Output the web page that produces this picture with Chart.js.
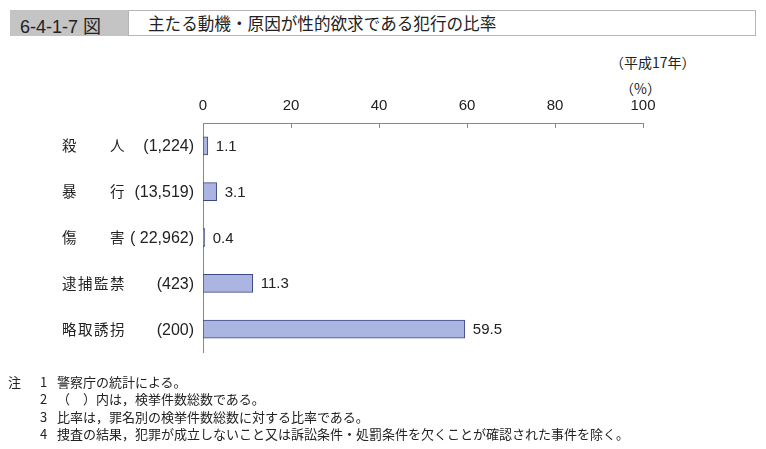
<!DOCTYPE html>
<html>
<head>
<meta charset="utf-8">
<script src="https://cdn.jsdelivr.net/npm/chart.js@4"></script>
<style>
  body { margin: 0; background: #fff; }
  #wrap { position: relative; width: 766px; height: 449px; overflow: hidden; }
  canvas { position: absolute; left: 0; top: 0; }
  .abs { position: absolute; white-space: nowrap; color: #222; }
  #numbox { left: 10px; top: 10px; width: 118px; height: 26px; background: #c4c4c4; }
  #titlebox { left: 128px; top: 10px; width: 626px; height: 24px; border: 1px solid #b5b5b5; background: #fff; }
  #num { left: 20px; top: 12px; font: 18px 'Liberation Sans', 'Noto Sans CJK JP', sans-serif; }
  #title { left: 148px; top: 11px; font: 16.6px 'Noto Sans CJK JP', sans-serif; }
  #year { left: 610px; top: 52px; font: 14px 'Noto Sans CJK JP', sans-serif; }
  #unit { left: 620px; top: 78px; font: 14px 'Noto Sans CJK JP', sans-serif; }
  #notes { left: 8px; top: 373px; font: 13px 'Noto Sans CJK JP', sans-serif; line-height: 17.3px; }
  #notes span { display: inline-block; }
</style>
</head>
<body>
<div id="wrap">
  <div class="abs" id="numbox"></div>
  <div class="abs" id="titlebox"></div>
  <div class="abs" id="num">6-4-1-7 図</div>
  <div class="abs" id="title">主たる動機・原因が性的欲求である犯行の比率</div>
  <div class="abs" id="year">（平成17年）</div>
  <div class="abs" id="unit">（%）</div>
  <canvas id="myChart" width="766" height="449"></canvas>
  <div class="abs" id="notes">
    <div><span style="width:32px">注</span><span style="width:17px">1</span>警察庁の統計による。</div>
    <div><span style="width:32px"></span><span style="width:17px">2</span>（　）内は，検挙件数総数である。</div>
    <div><span style="width:32px"></span><span style="width:17px">3</span>比率は，罪名別の検挙件数総数に対する比率である。</div>
    <div><span style="width:32px"></span><span style="width:17px">4</span>捜査の結果，犯罪が成立しないこと又は訴訟条件・処罰条件を欠くことが確認された事件を除く。</div>
  </div>
</div>
<script>
// data
const categories = ['殺　　人', '暴　　行', '傷　　害', '逮捕監禁', '略取誘拐'];
const counts = ['(1,224)', '(13,519)', '( 22,962)', '(423)', '(200)'];
const ratios = [1.1, 3.1, 0.4, 11.3, 59.5];
const xTicks = [0, 20, 40, 60, 80, 100];

const numFont = "15px 'Liberation Sans', 'Noto Sans CJK JP', sans-serif";

// category names + counts on the left, value labels at bar ends, tick marks
const labelsPlugin = {
  id: 'labels',
  afterDraw(chart) {
    const ctx = chart.ctx;
    const x = chart.scales.x;
    const y = chart.scales.y;
    ctx.save();
    // tick marks pointing down from the top axis
    ctx.strokeStyle = '#888';
    ctx.lineWidth = 1;
    xTicks.forEach(v => {
      const px = Math.round(x.getPixelForValue(v)) + 0.5;
      ctx.beginPath();
      ctx.moveTo(px, chart.chartArea.top);
      ctx.lineTo(px, chart.chartArea.top + 5);
      ctx.stroke();
    });
    ctx.fillStyle = '#222';
    ctx.textBaseline = 'middle';
    categories.forEach((c, i) => {
      const py = y.getPixelForValue(i);
      ctx.font = "14.5px 'Noto Sans CJK JP', sans-serif";
      ctx.textAlign = 'left';
      // one character every 16px
      [...c].forEach((ch, k) => ctx.fillText(ch, 62 + k * 16, py));
      ctx.font = "16px 'Liberation Sans', sans-serif";
      ctx.textAlign = 'right';
      ctx.fillText(counts[i], 194, py + 1);
    });
    const meta = chart.getDatasetMeta(0);
    ctx.font = numFont;
    ctx.textAlign = 'left';
    meta.data.forEach((bar, i) => {
      ctx.fillText(ratios[i].toFixed(1), bar.x + 8, bar.y + 1);
    });
    ctx.restore();
  }
};

new Chart(document.getElementById('myChart'), {
  type: 'bar',
  data: {
    labels: categories,
    datasets: [{
      data: ratios,
      backgroundColor: '#aab5e2',
      borderColor: '#3d4784',
      borderWidth: 1,
      borderSkipped: false,
      barThickness: 18
    }]
  },
  options: {
    indexAxis: 'y',
    responsive: false,
    animation: false,
    devicePixelRatio: 1,
    layout: { padding: { left: 203, right: 123, top: 83, bottom: 97 } },
    plugins: { legend: { display: false }, tooltip: { enabled: false } },
    scales: {
      x: {
        position: 'top',
        min: 0,
        max: 100,
        afterBuildTicks: s => { s.ticks = xTicks.map(v => ({ value: v })); },
        afterFit: s => { s.height = 40; },
        grid: { display: false, drawTicks: false },
        border: { display: true, color: '#888', width: 1 },
        ticks: { font: { family: "'Liberation Sans', sans-serif", size: 15 }, color: '#222', padding: 8 }
      },
      y: {
        afterFit: s => { s.width = 0; },
        grid: { display: false, drawTicks: false },
        border: { display: true, color: '#888', width: 1 },
        ticks: { display: false }
      }
    }
  },
  plugins: [labelsPlugin]
});
</script>
</body>
</html>
